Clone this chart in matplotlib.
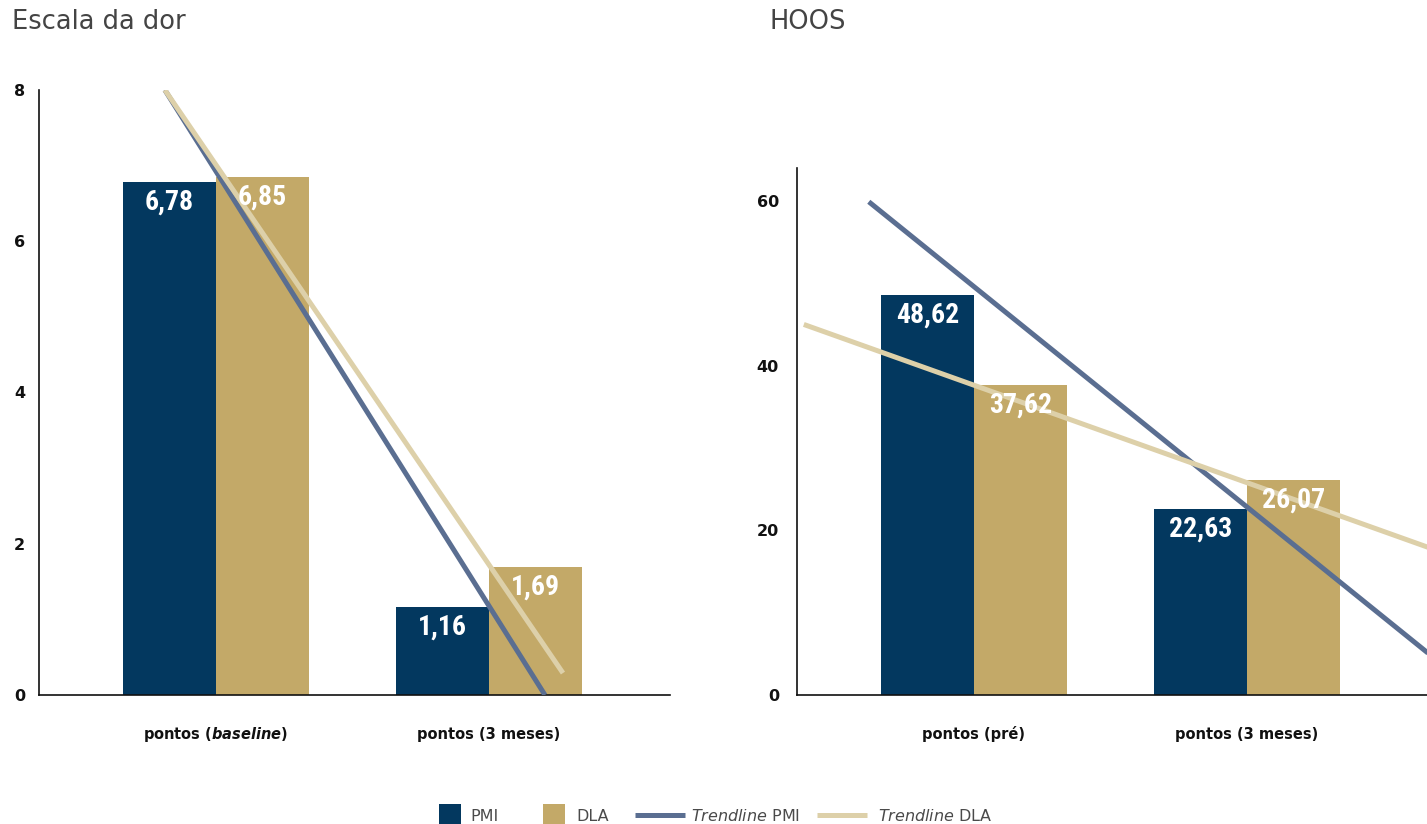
import matplotlib
matplotlib.use("Agg")
import os
import matplotlib.pyplot as plt
from matplotlib import font_manager as fm
from matplotlib.patches import Rectangle
from matplotlib.lines import Line2D
import numpy as np

# ---- data -------------------------------------------------------------
series = ["PMI", "DLA"]

dor_categories = [r"pontos ($\mathbfit{baseline}$)", "pontos (3 meses)"]
dor_pmi = [6.78, 1.16]
dor_dla = [6.85, 1.69]
dor_ticks = [0, 2, 4, 6, 8]
# trendline end points (category position, value)
dor_trend_pmi_x = [-0.187, 1.205]
dor_trend_pmi_y = [8.0, 0.0]
dor_trend_dla_x = [-0.187, 1.271]
dor_trend_dla_y = [8.0, 0.29]

hoos_categories = ["pontos (pré)", "pontos (3 meses)"]
hoos_pmi = [48.62, 22.63]
hoos_dla = [37.62, 26.07]
hoos_ticks = [0, 20, 40, 60]
hoos_trend_pmi_x = [-0.385, 1.70]
hoos_trend_pmi_y = [59.9, 4.1]
hoos_trend_dla_x = [-0.623, 1.70]
hoos_trend_dla_y = [45.0, 17.5]

# ---- style ------------------------------------------------------------
NAVY = "#03385F"
TAN = "#C3A968"
TREND_NAVY = "#5A6E91"
TREND_TAN = "#DDD0A9"

plt.rcParams["font.family"] = ["DejaVu Sans"]
plt.rcParams["mathtext.fontset"] = "custom"
plt.rcParams["mathtext.rm"] = "DejaVu Sans"
plt.rcParams["mathtext.it"] = "DejaVu Sans:italic"
plt.rcParams["mathtext.bf"] = "DejaVu Sans:bold"
plt.rcParams["mathtext.bfit"] = "DejaVu Sans:bold:italic"


def condensed_bold():
    """Pick a narrow bold face for the value labels, if one is installed."""
    prefs = ["robotocondensed-bold", "notosans-extracondensedbold",
             "notosans-condensedbold", "liberationsansnarrow-bold",
             "opensans-condensedbold", "opensans_condensed-bold",
             "dejavusanscondensed-bold"]
    files = {os.path.basename(f.fname).lower(): f.fname for f in fm.fontManager.ttflist}
    for p in prefs:
        for base, path in files.items():
            if base.startswith(p) and "italic" not in base and "oblique" not in base:
                return fm.FontProperties(fname=path), p
    for base, path in files.items():
        if ("condensed" in base or "narrow" in base) and "bold" in base \
                and "italic" not in base and "oblique" not in base \
                and "semi" not in base and "extrabold" not in base:
            return fm.FontProperties(fname=path), base
    return fm.FontProperties(family="DejaVu Sans", weight="bold"), "dejavu"


VALUE_FP, _value_face = condensed_bold()
VALUE_FP.set_size(20 if "dejavu" not in _value_face else 16)

W, H = 1427, 824
fig = plt.figure(figsize=(W / 100, H / 100), dpi=100)

BAR_W = 0.34


def draw_panel(ax, cats, pmi, dla, ticks, ymax, tpx, tpy, tdx, tdy, ypad):
    x = np.arange(len(cats))
    ax.bar(x - BAR_W / 2, pmi, BAR_W, color=NAVY, zorder=2)
    ax.bar(x + BAR_W / 2, dla, BAR_W, color=TAN, zorder=2)
    ax.plot(tpx, tpy, color=TREND_NAVY, lw=3.6, solid_capstyle="butt", zorder=3)
    ax.plot(tdx, tdy, color=TREND_TAN, lw=3.6, solid_capstyle="butt", zorder=3)
    for xs, vals in ((x - BAR_W / 2, pmi), (x + BAR_W / 2, dla)):
        for xi, v in zip(xs, vals):
            ax.annotate(f"{v:.2f}".replace(".", ","), (xi, v),
                        xytext=(0, -14.5), textcoords="offset points",
                        ha="center", va="center", zorder=5, color="white",
                        fontproperties=VALUE_FP)
    ax.set_xlim(-0.648, 1.663)
    ax.set_ylim(0, ymax)
    ax.set_yticks(ticks)
    ax.set_xticks(x)
    ax.set_xticklabels(cats)
    for s in ("top", "right"):
        ax.spines[s].set_visible(False)
    for s in ("left", "bottom"):
        ax.spines[s].set_linewidth(1.2)
        ax.spines[s].set_color("#111111")
    ax.tick_params(axis="y", length=0, pad=ypad, labelsize=11.5, labelcolor="#111111")
    ax.tick_params(axis="x", length=0, pad=32, labelsize=10.5, labelcolor="#111111")
    for lab in ax.get_yticklabels():
        lab.set_fontweight("bold")
    for lab in ax.get_xticklabels():
        lab.set_fontweight("bold")
        lab.set_verticalalignment("baseline")


ax1 = fig.add_axes([39 / W, 1 - 695 / H, 631 / W, 605 / H])
draw_panel(ax1, dor_categories, dor_pmi, dor_dla, dor_ticks, 8,
           dor_trend_pmi_x, dor_trend_pmi_y, dor_trend_dla_x, dor_trend_dla_y, 10)

ax2 = fig.add_axes([797 / W, 1 - 695 / H, 631 / W, 527 / H])
draw_panel(ax2, hoos_categories, hoos_pmi, hoos_dla, hoos_ticks, 64,
           hoos_trend_pmi_x, hoos_trend_pmi_y, hoos_trend_dla_x, hoos_trend_dla_y, 13)

# ---- titles -----------------------------------------------------------
title_kw = dict(fontsize=18.5, color="#444444", va="baseline", ha="left",
                family="DejaVu Sans", weight="normal")
fig.text(12 / W, 1 - 29 / H, "Escala da dor", **title_kw)
fig.text(770 / W, 1 - 29 / H, "HOOS", **title_kw)

# ---- legend -----------------------------------------------------------
def fx(px):
    return px / W


def fy(py):
    return 1 - py / H


LEG_Y = 815
SQ = 22
for x0, col in ((439, NAVY), (543, TAN)):
    fig.add_artist(Rectangle((fx(x0), fy(LEG_Y + SQ / 2)), SQ / W, SQ / H,
                             transform=fig.transFigure, color=col, lw=0))
for x0, x1, col in ((635, 685, TREND_NAVY), (817, 867, TREND_TAN)):
    fig.add_artist(Line2D([fx(x0), fx(x1)], [fy(LEG_Y), fy(LEG_Y)],
                          transform=fig.transFigure, color=col, lw=3.6,
                          solid_capstyle="butt"))
leg_kw = dict(fontsize=11.5, color="#4a4a4a", va="baseline", ha="left")
base = 1 - 821 / H
fig.text(fx(470), base, "PMI", **leg_kw)
fig.text(fx(576), base, "DLA", **leg_kw)
fig.text(fx(691), base, r"$\mathit{Trendline}$ PMI", **leg_kw)
fig.text(fx(878), base, r"$\mathit{Trendline}$ DLA", **leg_kw)

fig.savefig("out.png", dpi=100, facecolor="white")
